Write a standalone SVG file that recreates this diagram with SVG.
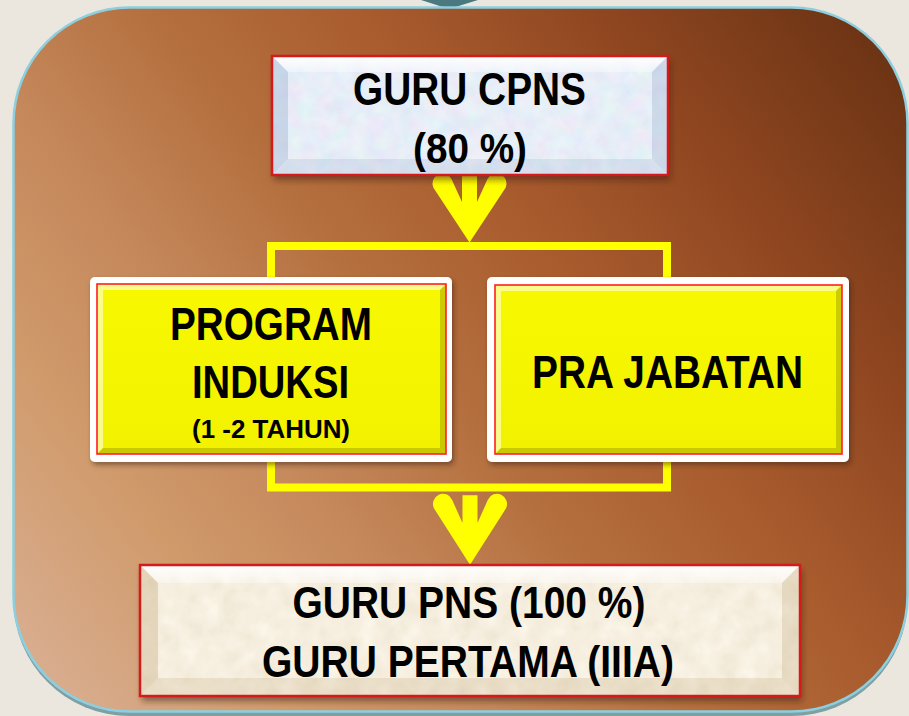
<svg xmlns="http://www.w3.org/2000/svg" width="909" height="716" viewBox="0 0 909 716">
<defs>
<linearGradient id="bg" gradientUnits="userSpaceOnUse" x1="60" y1="700" x2="900" y2="50">
<stop offset="0" stop-color="#d8ad8f"/>
<stop offset="0.17" stop-color="#d09a6b"/>
<stop offset="0.32" stop-color="#c4875a"/>
<stop offset="0.46" stop-color="#b5703f"/>
<stop offset="0.62" stop-color="#a95c2e"/>
<stop offset="0.8" stop-color="#8f4620"/>
<stop offset="1" stop-color="#6a3314"/>
</linearGradient>
<filter id="texBlue" x="0" y="0" width="100%" height="100%">
<feTurbulence type="fractalNoise" baseFrequency="0.06" numOctaves="3" seed="4" result="n"/>
<feColorMatrix in="n" type="matrix" values="0.22 0 0 0 0.69  0 0.18 0 0 0.76  0 0 0.1 0 0.88  0 0 0 0 1" result="c"/>
<feComposite in="c" in2="SourceAlpha" operator="in"/>
</filter>
<filter id="texBeige" x="0" y="0" width="100%" height="100%">
<feTurbulence type="fractalNoise" baseFrequency="0.05" numOctaves="3" seed="9" result="n"/>
<feColorMatrix in="n" type="matrix" values="0.14 0 0 0 0.85  0.18 0 0 0 0.77  0.22 0 0 0 0.63  0 0 0 0 1" result="c"/>
<feComposite in="c" in2="SourceAlpha" operator="in"/>
</filter>
<filter id="shadow" x="-10%" y="-10%" width="120%" height="130%">
<feDropShadow dx="2" dy="5" stdDeviation="3" flood-color="#3a1a08" flood-opacity="0.55"/>
</filter>
<filter id="shadowS" x="-10%" y="-10%" width="120%" height="130%">
<feDropShadow dx="2" dy="3" stdDeviation="2.5" flood-color="#3a1a08" flood-opacity="0.5"/>
</filter>
<linearGradient id="topW" x1="0" y1="0" x2="0" y2="1">
<stop offset="0" stop-color="#ffffff" stop-opacity="0.95"/>
<stop offset="1" stop-color="#ffffff" stop-opacity="0.35"/>
</linearGradient>
<linearGradient id="yel" x1="0" y1="0" x2="0" y2="1">
<stop offset="0" stop-color="#f8f800"/>
<stop offset="1" stop-color="#f2f200"/>
</linearGradient>
<path id="arrow" d="M-36.1,4.2 L0,59 L36.1,4.2 A10,10 0 0 0 17.9,-4.2 L7.5,18.5 L7.5,-8.5 L-7.5,-8.5 L-7.5,18.5 L-17.9,-4.2 A10,10 0 0 0 -36.1,4.2 Z"/>
</defs>
<style>
.t{font-family:"Liberation Sans",Arial,sans-serif;font-weight:bold;fill:#000;text-anchor:middle}
.red{fill:none;stroke:#d41a1a;stroke-width:2.5}
.redY{fill:none;stroke:#ff1f1f;stroke-width:1.6}
.frame{fill:#ffffff}
.conn{fill:none;stroke:#ffff00;stroke-width:8;stroke-linejoin:miter}
.arr{fill:#ffff00}
.hl{fill:#ffffff;opacity:0.55}
.dk{fill:#6e6a00;opacity:0.3}
</style>
<rect width="909" height="716" fill="#ebe7df"/>
<polygon points="421,0 478,0 449,9" fill="#4a7a80"/>
<g id="panel">
<rect x="13.5" y="12" width="894" height="704" rx="116" fill="#7f9fa2"/>
<rect x="13.5" y="7.5" width="894" height="704" rx="116" fill="url(#bg)" stroke="#8ccfe0" stroke-width="2.5"/>
</g>
<g id="connectors">
<path class="conn" d="M271,280 V246 H667 V280"/>
<path class="conn" d="M271,460 V487.5 H667 V460"/>
<use href="#arrow" class="arr" transform="translate(469.5,183.5)"/>
<use href="#arrow" class="arr" transform="translate(470,504) scale(1,1.03)"/>
</g>
<g id="guru-cpns">
<g filter="url(#shadow)">
<rect x="272" y="56" width="396" height="119" fill="#cbd8ee"/>
</g>
<rect x="272" y="56" width="396" height="119" fill="#cbd8ee" filter="url(#texBlue)"/>
<polygon points="272,56 668,56 652,72 288,72" fill="url(#topW)"/>
<polygon points="272,56 288,72 288,159 272,175" fill="#8fa6c8" opacity="0.35"/>
<polygon points="668,56 652,72 652,159 668,175" fill="#8fa6c8" opacity="0.3"/>
<polygon points="272,175 288,159 652,159 668,175" fill="#8fa6c8" opacity="0.2"/>
<rect class="red" x="272" y="56" width="396" height="119"/>
<text class="t" x="469.5" y="105" font-size="46" textLength="233" lengthAdjust="spacingAndGlyphs">GURU CPNS</text>
<text class="t" x="470" y="163" font-size="42" textLength="114" lengthAdjust="spacingAndGlyphs">(80 %)</text>
</g>
<g id="program-induksi">
<rect class="frame" x="90" y="277" width="362" height="185" rx="5" filter="url(#shadowS)"/>
<rect x="97" y="284" width="349" height="170" fill="url(#yel)"/>
<polygon class="hl" points="97,284 446,284 440,290 103,290"/>
<polygon class="hl" points="97,284 103,290 103,448 97,454" opacity="0.3"/>
<polygon class="dk" points="97,454 103,448 440,448 446,454"/>
<polygon class="dk" points="446,284 440,290 440,448 446,454" opacity="0.15"/>
<rect class="redY" x="97" y="284" width="349" height="170"/>
<text class="t" x="271" y="340" font-size="46" textLength="202" lengthAdjust="spacingAndGlyphs">PROGRAM</text>
<text class="t" x="270.5" y="398" font-size="46" textLength="157" lengthAdjust="spacingAndGlyphs">INDUKSI</text>
<text class="t" x="271" y="438" font-size="25" textLength="158" lengthAdjust="spacingAndGlyphs">(1 -2 TAHUN)</text>
</g>
<g id="pra-jabatan">
<rect class="frame" x="487" y="277" width="362" height="185" rx="5" filter="url(#shadowS)"/>
<rect x="495" y="285" width="347" height="169" fill="url(#yel)"/>
<polygon class="hl" points="495,285 842,285 836,291 501,291"/>
<polygon class="hl" points="495,285 501,291 501,448 495,454" opacity="0.3"/>
<polygon class="dk" points="495,454 501,448 836,448 842,454"/>
<polygon class="dk" points="842,285 836,291 836,448 842,454" opacity="0.15"/>
<rect class="redY" x="495" y="285" width="347" height="169"/>
<text class="t" x="667.5" y="388" font-size="47" textLength="271" lengthAdjust="spacingAndGlyphs">PRA JABATAN</text>
</g>
<g id="guru-pns">
<g filter="url(#shadow)">
<rect x="140" y="565" width="660" height="131" fill="#ebdcbc"/>
</g>
<rect x="140" y="565" width="660" height="131" fill="#ebdcbc" filter="url(#texBeige)"/>
<polygon points="140,565 800,565 782,583 158,583" fill="url(#topW)"/>
<polygon points="140,565 158,583 158,678 140,696" fill="#b89a6a" opacity="0.3"/>
<polygon points="800,565 782,583 782,678 800,696" fill="#b89a6a" opacity="0.25"/>
<polygon points="140,696 158,678 782,678 800,696" fill="#b89a6a" opacity="0.2"/>
<rect class="red" x="140" y="565" width="660" height="131"/>
<text class="t" x="469" y="618" font-size="44" textLength="353" lengthAdjust="spacingAndGlyphs">GURU PNS (100 %)</text>
<text class="t" x="468" y="677" font-size="44" textLength="412" lengthAdjust="spacingAndGlyphs">GURU PERTAMA (IIIA)</text>
</g>
</svg>
